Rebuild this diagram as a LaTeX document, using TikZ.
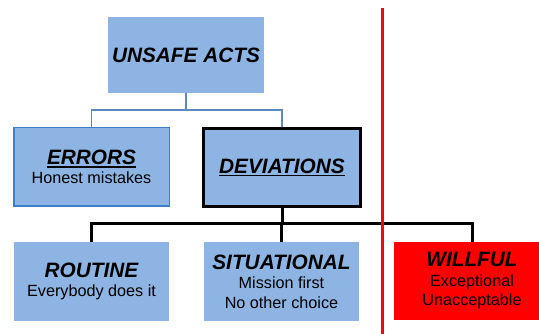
\documentclass[tikz,border=0pt]{standalone}
\usepackage{fontspec}
\setmainfont{Liberation Sans}
\definecolor{boxblue}{HTML}{8DB4E2}
\definecolor{lineblue}{HTML}{5A8AC0}
\definecolor{errborder}{HTML}{3E7DC8}
\definecolor{wred}{HTML}{FF0000}
\newcommand{\ttlfont}{\fontsize{20.8}{24}\selectfont\bfseries\itshape}
\newcommand{\bdfont}{\fontsize{16.2}{19.5}\selectfont}
\newcommand{\myul}[1]{\setbox0\hbox{#1}\leavevmode\rlap{\raisebox{-3.2pt}{\rule{\wd0}{1.7pt}}}\box0}
\begin{document}
\begin{tikzpicture}[x=1pt,y=-1pt,
  blbox/.style={rectangle, fill=boxblue, inner sep=0pt, align=center, font=\bdfont, text=black},
  blueconn/.style={draw=lineblue, line width=1.3pt},
  blackconn/.style={draw=black, line width=3pt},
  redline/.style={draw=wred, line width=3pt}]
\useasboundingbox (0,0) rectangle (539,334);
\node[blbox, minimum width=156pt, minimum height=76pt] (ua) at (186,55) {\ttlfont UNSAFE ACTS};
\node[blbox, draw=errborder, line width=1.5pt, minimum width=155.5pt, minimum height=78.5pt] (err) at (91.5,167) {{\ttlfont\myul{ERRORS}}\\Honest mistakes};
\node[blbox, draw=black, line width=3pt, minimum width=157pt, minimum height=78pt] (dev) at (282,167.5) {\raisebox{-2pt}{\ttlfont\myul{DEVIATIONS}}};
\node[blbox, minimum width=155pt, minimum height=79pt] (rou) at (91.5,281.5) {{\ttlfont ROUTINE}\\Everybody does it};
\node[blbox, minimum width=155pt, minimum height=79pt] (sit) at (281.5,281.5) {{\ttlfont SITUATIONAL}\\Mission first\\No other choice};
\node[blbox, fill=wred, minimum width=156pt, minimum height=78pt] (wil) at (472,281) {{\ttlfont WILLFUL}\\Exceptional\\Unacceptable};
\coordinate (b1) at (0,110);
\coordinate (b2) at (0,224);
\draw[blueconn] (ua.south) -- (ua.south |- b1);
\draw[blueconn] (err.north) -- (err.north |- b1) -- (dev.north |- b1) -- (dev.north);
\draw[blackconn] (dev.south) -- (dev.south |- b2);
\draw[blackconn] (rou.north) -- (rou.north |- b2) -- (wil.north |- b2) -- (wil.north);
\draw[blackconn] (sit.north) -- (sit.north |- b2);
\coordinate (rt) at (382,8);
\coordinate (rb) at (382,334);
\draw[redline] (rt) -- (rb);
\end{tikzpicture}
\end{document}
